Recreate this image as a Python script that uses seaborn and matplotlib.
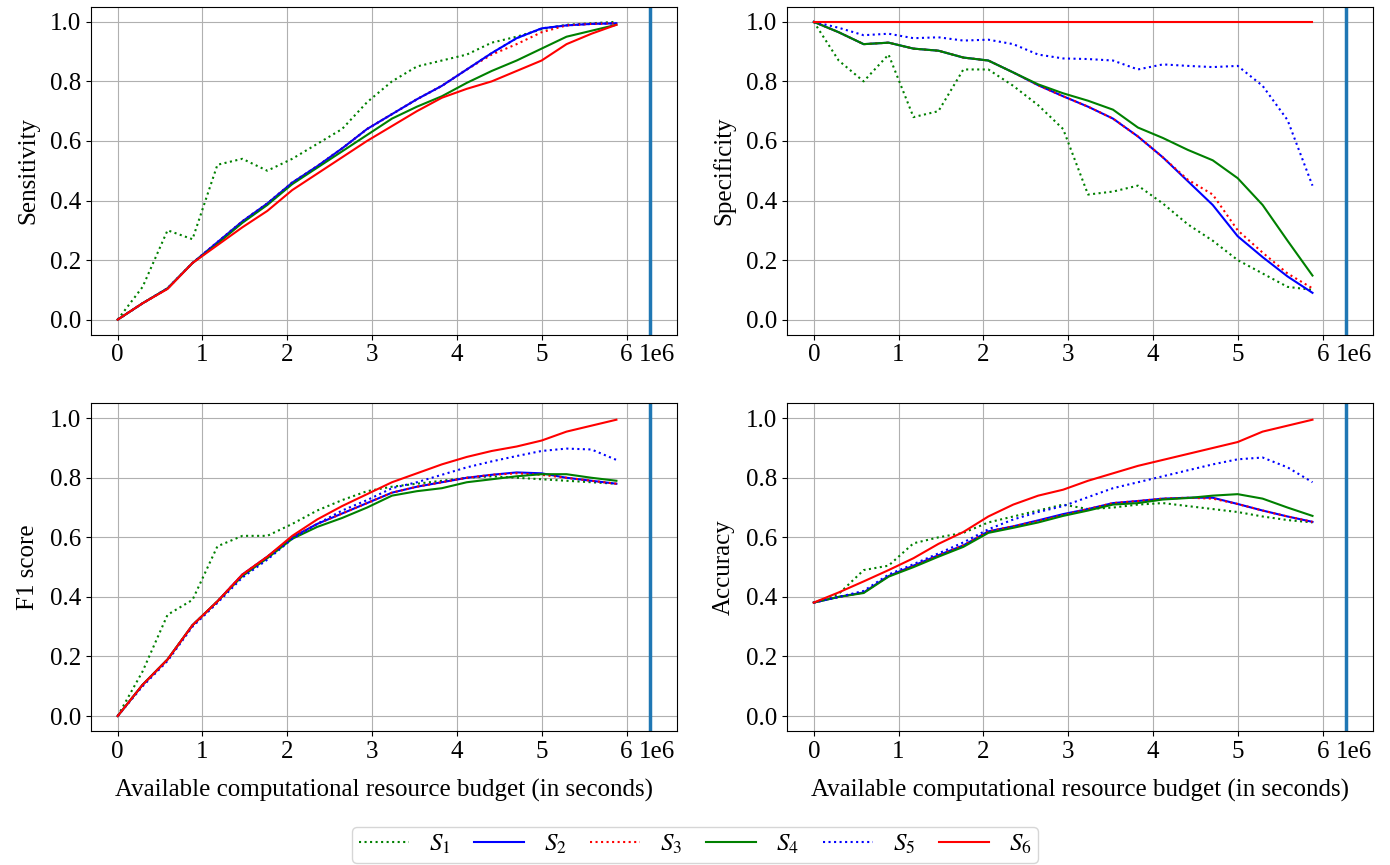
import numpy as np
import pandas as pd
import matplotlib
matplotlib.use("Agg")
import matplotlib.pyplot as plt
import seaborn as sns

# budget grid, in units of 1e6 seconds
BUDGET = [0.0, 0.294, 0.588, 0.882, 1.176, 1.47, 1.764, 2.058, 2.352, 2.646, 2.94,
          3.234, 3.528, 3.822, 4.116, 4.41, 4.704, 4.998, 5.292, 5.586, 5.88]
MAX_BUDGET = 6.28  # vertical marker, 1e6 seconds

SERIES = ["$S_1$", "$S_2$", "$S_3$", "$S_4$", "$S_5$", "$S_6$"]

SENS_S1 = [0.0, 0.11, 0.30, 0.27, 0.52, 0.54, 0.50, 0.54, 0.59, 0.64, 0.73,
           0.80, 0.85, 0.87, 0.89, 0.93, 0.95, 0.975, 0.99, 0.995, 1.0]
SENS_S2 = [0.0, 0.055, 0.105, 0.19, 0.26, 0.33, 0.39, 0.46, 0.515, 0.575, 0.64,
           0.69, 0.74, 0.785, 0.84, 0.895, 0.945, 0.978, 0.988, 0.993, 0.995]
SENS_S3 = [0.0, 0.055, 0.105, 0.19, 0.26, 0.33, 0.39, 0.46, 0.515, 0.575, 0.64,
           0.69, 0.74, 0.785, 0.84, 0.89, 0.925, 0.965, 0.988, 0.993, 0.995]
SENS_S4 = [0.0, 0.055, 0.105, 0.19, 0.255, 0.325, 0.385, 0.455, 0.51, 0.565, 0.62,
           0.675, 0.715, 0.75, 0.795, 0.835, 0.87, 0.91, 0.95, 0.97, 0.99]
SENS_S5 = [0.0, 0.055, 0.105, 0.19, 0.26, 0.33, 0.39, 0.46, 0.515, 0.575, 0.64,
           0.69, 0.74, 0.785, 0.84, 0.895, 0.945, 0.978, 0.988, 0.993, 0.995]
SENS_S6 = [0.0, 0.055, 0.103, 0.19, 0.25, 0.31, 0.365, 0.435, 0.49, 0.545, 0.60,
           0.65, 0.70, 0.745, 0.775, 0.80, 0.835, 0.87, 0.925, 0.96, 0.99]

SPEC_S1 = [1.0, 0.87, 0.80, 0.89, 0.68, 0.70, 0.84, 0.84, 0.785, 0.72, 0.64,
           0.42, 0.43, 0.45, 0.39, 0.32, 0.265, 0.20, 0.155, 0.11, 0.10]
SPEC_S2 = [1.0, 0.965, 0.925, 0.93, 0.91, 0.903, 0.88, 0.87, 0.83, 0.787, 0.75,
           0.715, 0.675, 0.615, 0.545, 0.465, 0.385, 0.28, 0.21, 0.145, 0.09]
SPEC_S3 = [1.0, 0.965, 0.925, 0.93, 0.91, 0.903, 0.88, 0.87, 0.83, 0.787, 0.75,
           0.715, 0.675, 0.615, 0.545, 0.47, 0.42, 0.30, 0.225, 0.155, 0.105]
SPEC_S4 = [1.0, 0.965, 0.925, 0.93, 0.91, 0.903, 0.88, 0.87, 0.83, 0.79, 0.76,
           0.735, 0.705, 0.645, 0.61, 0.57, 0.535, 0.475, 0.385, 0.265, 0.148]
SPEC_S5 = [1.0, 0.98, 0.955, 0.96, 0.945, 0.948, 0.937, 0.94, 0.925, 0.89, 0.877,
           0.875, 0.87, 0.84, 0.857, 0.852, 0.848, 0.852, 0.785, 0.67, 0.45]
SPEC_S6 = [1.0, 1.0, 1.0, 1.0, 1.0, 1.0, 1.0, 1.0, 1.0, 1.0, 1.0,
           1.0, 1.0, 1.0, 1.0, 1.0, 1.0, 1.0, 1.0, 1.0, 1.0]

F1_S1 = [0.0, 0.15, 0.34, 0.39, 0.57, 0.605, 0.605, 0.645, 0.69, 0.725, 0.755,
         0.77, 0.78, 0.79, 0.80, 0.805, 0.80, 0.795, 0.79, 0.785, 0.78]
F1_S2 = [0.0, 0.105, 0.19, 0.305, 0.385, 0.475, 0.535, 0.60, 0.645, 0.68, 0.715,
         0.75, 0.77, 0.785, 0.80, 0.81, 0.818, 0.815, 0.80, 0.79, 0.78]
F1_S3 = [0.0, 0.105, 0.19, 0.305, 0.385, 0.475, 0.535, 0.60, 0.645, 0.68, 0.715,
         0.75, 0.77, 0.785, 0.80, 0.81, 0.815, 0.81, 0.80, 0.79, 0.78]
F1_S4 = [0.0, 0.105, 0.19, 0.305, 0.385, 0.47, 0.53, 0.595, 0.635, 0.665, 0.70,
         0.74, 0.755, 0.765, 0.785, 0.795, 0.805, 0.812, 0.812, 0.80, 0.79]
F1_S5 = [0.0, 0.10, 0.185, 0.30, 0.38, 0.465, 0.525, 0.595, 0.645, 0.69, 0.725,
         0.765, 0.785, 0.81, 0.835, 0.855, 0.873, 0.89, 0.898, 0.895, 0.86]
F1_S6 = [0.0, 0.105, 0.19, 0.305, 0.385, 0.475, 0.535, 0.605, 0.66, 0.705, 0.745,
         0.785, 0.815, 0.845, 0.87, 0.89, 0.905, 0.925, 0.955, 0.975, 0.995]

ACC_S1 = [0.381, 0.41, 0.49, 0.505, 0.58, 0.60, 0.615, 0.65, 0.67, 0.69, 0.71,
          0.695, 0.70, 0.71, 0.715, 0.705, 0.695, 0.685, 0.67, 0.658, 0.65]
ACC_S2 = [0.381, 0.40, 0.415, 0.47, 0.505, 0.54, 0.573, 0.62, 0.637, 0.657, 0.678,
          0.695, 0.715, 0.722, 0.73, 0.733, 0.733, 0.712, 0.69, 0.67, 0.652]
ACC_S3 = [0.381, 0.40, 0.415, 0.47, 0.505, 0.54, 0.573, 0.62, 0.637, 0.655, 0.675,
          0.695, 0.715, 0.722, 0.73, 0.733, 0.73, 0.712, 0.69, 0.67, 0.652]
ACC_S4 = [0.381, 0.40, 0.413, 0.468, 0.50, 0.535, 0.568, 0.615, 0.632, 0.65, 0.672,
          0.69, 0.71, 0.715, 0.727, 0.732, 0.74, 0.745, 0.73, 0.70, 0.672]
ACC_S5 = [0.381, 0.40, 0.42, 0.475, 0.51, 0.546, 0.583, 0.627, 0.66, 0.685, 0.705,
          0.735, 0.765, 0.785, 0.805, 0.825, 0.845, 0.862, 0.868, 0.835, 0.785]
ACC_S6 = [0.381, 0.415, 0.452, 0.49, 0.53, 0.578, 0.618, 0.67, 0.71, 0.74, 0.76,
          0.79, 0.815, 0.84, 0.86, 0.88, 0.90, 0.92, 0.955, 0.975, 0.995]

COLORS = dict(zip(SERIES, ["green", "blue", "red", "green", "blue", "red"]))
DOT = (1, 1.65)
DASHES = dict(zip(SERIES, [DOT, "", DOT, "", DOT, ""]))


def long_frame(columns):
    parts = []
    for name, values in zip(SERIES, columns):
        parts.append(pd.DataFrame({"budget": np.array(BUDGET) * 1e6,
                                   "value": values, "series": name}))
    return pd.concat(parts, ignore_index=True)


def main():
    plt.rcParams["font.family"] = ["Liberation Serif", "DejaVu Serif"]
    plt.rcParams["mathtext.fontset"] = "stix"
    plt.rcParams["font.size"] = 18

    panels = [
        ("Sensitivity", [SENS_S1, SENS_S2, SENS_S3, SENS_S4, SENS_S5, SENS_S6]),
        ("Specificity", [SPEC_S1, SPEC_S2, SPEC_S3, SPEC_S4, SPEC_S5, SPEC_S6]),
        ("F1 score", [F1_S1, F1_S2, F1_S3, F1_S4, F1_S5, F1_S6]),
        ("Accuracy", [ACC_S1, ACC_S2, ACC_S3, ACC_S4, ACC_S5, ACC_S6]),
    ]

    fig, axs = plt.subplots(2, 2, figsize=(13.9, 8.65), dpi=100)
    fig.subplots_adjust(left=0.0655, right=0.9878, top=0.992, bottom=0.155,
                        wspace=0.188, hspace=0.21)
    axs = axs.ravel()

    for i, (ylabel, columns) in enumerate(panels):
        ax = axs[i]
        sns.lineplot(data=long_frame(columns), x="budget", y="value",
                     hue="series", style="series",
                     hue_order=SERIES, style_order=SERIES,
                     palette=COLORS, dashes=DASHES, linewidth=1.5,
                     errorbar=None, legend=(i == 0), ax=ax)
        ax.axvline(MAX_BUDGET * 1e6, color="C0", linewidth=2.5)
        ax.set_xlim(-0.314e6, 6.594e6)
        ax.set_ylim(-0.05, 1.05)
        ax.set_yticks(np.arange(0, 1.01, 0.2))
        ax.grid(True)
        ax.set_ylabel(ylabel, labelpad=8)

        # old-style offset text: same line as the tick labels
        ax.xaxis.get_offset_text().set_visible(False)
        ax.annotate("1e6", xy=(1, 0), xycoords="axes fraction",
                    xytext=(-1, -7), textcoords="offset points",
                    ha="right", va="top")

        if i >= 2:
            ax.set_xlabel("Available computational resource budget (in seconds)",
                          labelpad=12)
        else:
            ax.set_xlabel("")

    handles, labels = axs[0].get_legend_handles_labels()
    axs[0].get_legend().remove()
    fig.legend(handles, labels, loc="lower center", ncol=6,
               bbox_to_anchor=(0.5, 0.0), borderaxespad=0.1, borderpad=0.25,
               handlelength=2.0, handletextpad=0.8, columnspacing=0.95)

    fig.savefig("out.png", dpi=100)


if __name__ == "__main__":
    main()
